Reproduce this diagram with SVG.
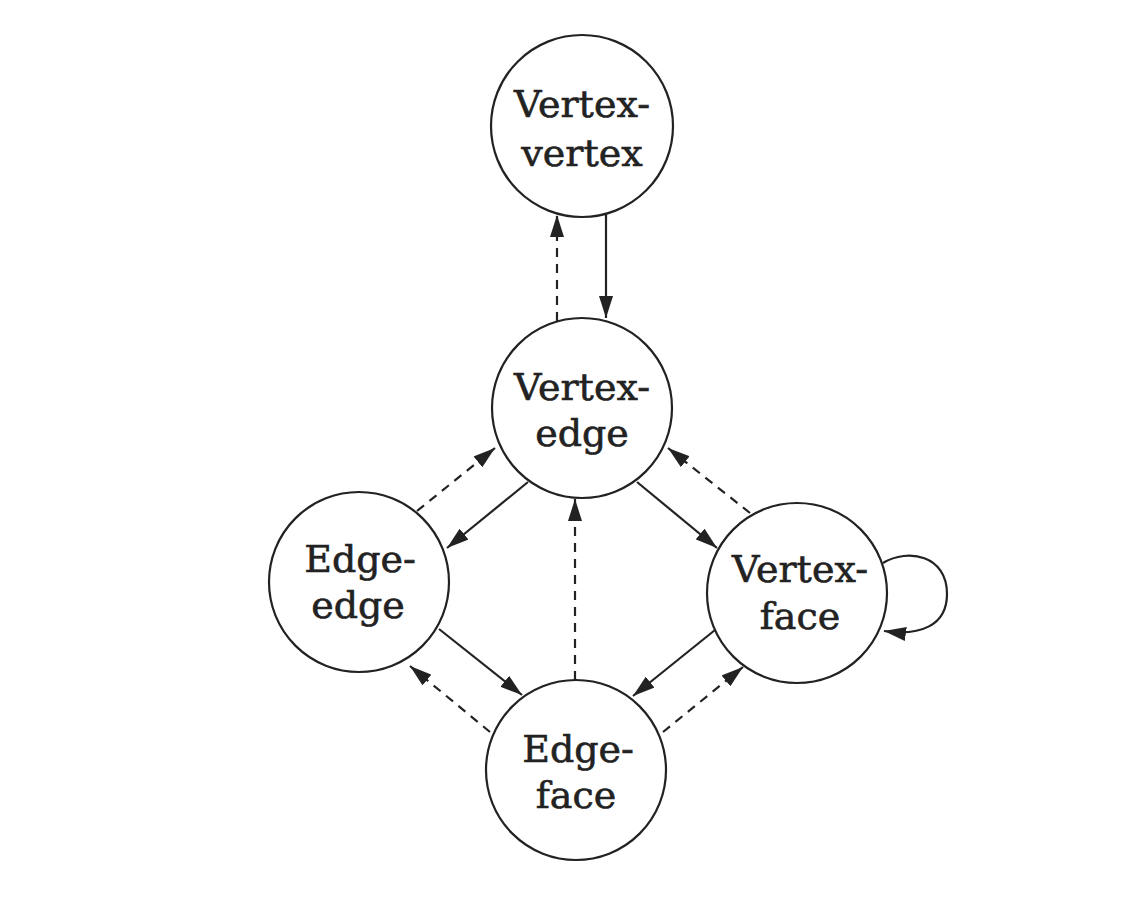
<svg xmlns="http://www.w3.org/2000/svg" width="1140" height="900" viewBox="0 0 1140 900">
<style>
  .node circle { fill: #fff; stroke: #222; stroke-width: 2.2; }
  .node text { font-family: "DejaVu Serif", "Liberation Serif", serif; font-size: 38px; fill: #222; stroke: #222; stroke-width: 0.6; text-anchor: middle; }
  .solid { stroke: #222; stroke-width: 2.2; fill: none; marker-end: url(#arr); }
  .dashed { stroke: #222; stroke-width: 2.2; fill: none; stroke-dasharray: 9 7; marker-end: url(#arr); }
</style>
<defs>
  <marker id="arr" markerUnits="userSpaceOnUse" markerWidth="22" markerHeight="14" refX="22" refY="7" orient="auto">
    <path d="M0,0 L22,7 L0,14 z" fill="#222"/>
  </marker>
</defs>
<rect width="1140" height="900" fill="#fff"/>
<g id="connectors">
  <line class="solid" x1="606" y1="214" x2="606" y2="318"/>
  <line class="dashed" x1="557" y1="321" x2="557" y2="215"/>
  <line class="dashed" x1="417" y1="511" x2="495" y2="448"/>
  <line class="solid" x1="528" y1="482" x2="447" y2="548"/>
  <line class="dashed" x1="575" y1="680" x2="575" y2="499"/>
  <line class="solid" x1="637" y1="482" x2="717" y2="548"/>
  <line class="dashed" x1="750" y1="513" x2="668" y2="448"/>
  <line class="solid" x1="439" y1="629" x2="522" y2="695"/>
  <line class="solid" x1="715" y1="630" x2="633" y2="696"/>
  <line class="dashed" x1="490" y1="732" x2="410" y2="666"/>
  <line class="dashed" x1="663" y1="732" x2="743" y2="667"/>
  <path class="solid" d="M883,563 C908,548 947,555 947,594 C947,626 920,636 884,631"/>
</g>
<g id="vertex-vertex" class="node">
  <circle cx="582" cy="126" r="91"/>
  <text x="582" y="117">Vertex-</text>
  <text x="582" y="166">vertex</text>
</g>
<g id="vertex-edge" class="node">
  <circle cx="582" cy="408" r="90"/>
  <text x="582" y="400">Vertex-</text>
  <text x="582" y="446">edge</text>
</g>
<g id="edge-edge" class="node">
  <circle cx="359" cy="582" r="90"/>
  <text x="360" y="572">Edge-</text>
  <text x="358" y="618">edge</text>
</g>
<g id="vertex-face" class="node">
  <circle cx="797" cy="593" r="90"/>
  <text x="800" y="582">Vertex-</text>
  <text x="800" y="629">face</text>
</g>
<g id="edge-face" class="node">
  <circle cx="576" cy="770" r="90"/>
  <text x="578" y="762">Edge-</text>
  <text x="576" y="808">face</text>
</g>
</svg>
